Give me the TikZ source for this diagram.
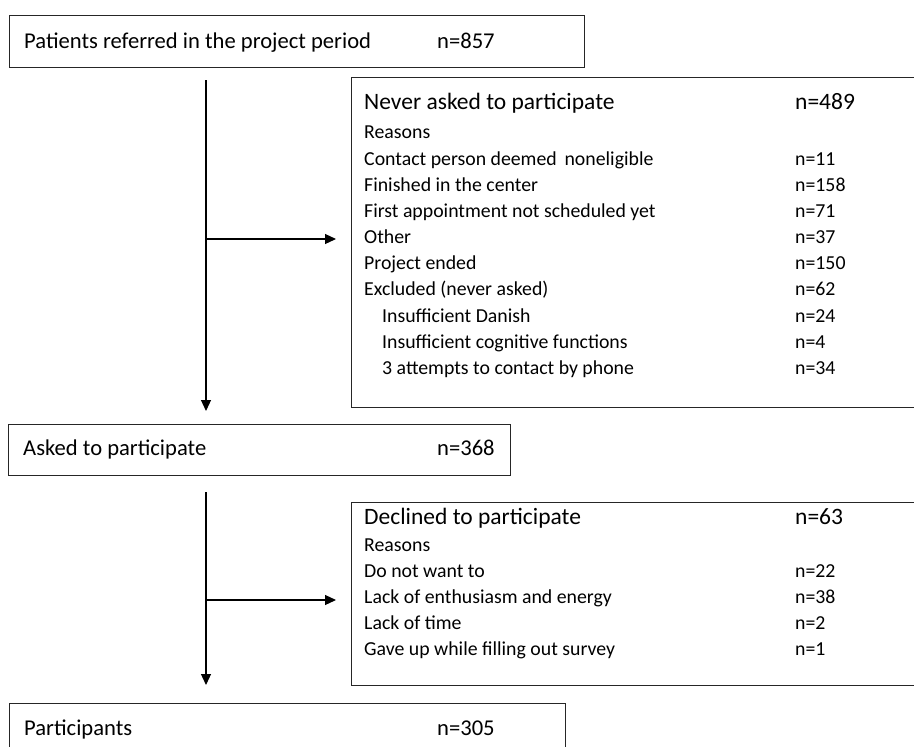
\documentclass[tikz,border=0pt]{standalone}
\usepackage{fontspec}
\setmainfont{Carlito}
\usetikzlibrary{arrows.meta}
\begin{document}
\begin{tikzpicture}[x=1pt,y=-1pt,
  box/.style={draw=black!85, line width=1.2pt, rectangle, inner sep=0pt, anchor=north west},
  big/.style={font=\fontsize{22.6}{26}\selectfont, anchor=base west, inner sep=0pt},
  head/.style={font=\fontsize{23.5}{26}\selectfont, anchor=base west, inner sep=0pt},
  small/.style={font=\fontsize{19.8}{22}\selectfont, anchor=base west, inner sep=0pt},
  arr/.style={line width=1.2pt, -{Triangle[length=11pt,width=10pt]}}]
\useasboundingbox (0,0) rectangle (914,747);
\clip (0,0) rectangle (914,747);
% boxes
\node[box, minimum width=575pt, minimum height=52pt] (b1) at (9,15) {};
\node[box, minimum width=620pt, minimum height=330pt] (b2) at (351,77) {};
\node[box, minimum width=502pt, minimum height=51pt] (b3) at (8,424) {};
\node[box, minimum width=620pt, minimum height=183pt] (b4) at (351,502) {};
\node[box, minimum width=556pt, minimum height=80pt] (b5) at (9,703) {};
% box 1
\node[big] (t1) at (24,48) {Patients referred in the project period};
\node[big] (n1) at (437,48) {n=857};
% box 2
\node[head] (t2) at (364,109) {Never asked to participate};
\node[head] (n2) at (795,109) {n=489};
\node[small] (r2) at (364,138) {Reasons};
\node[small] (a1) at (364,165) {Contact person deemed\, noneligible};
\node[small] (m1) at (795,165) {n=11};
\node[small] (a2) at (364,191) {Finished in the center};
\node[small] (m2) at (795,191) {n=158};
\node[small] (a3) at (364,217) {First appointment not scheduled yet};
\node[small] (m3) at (795,217) {n=71};
\node[small] (a4) at (364,243) {Other};
\node[small] (m4) at (795,243) {n=37};
\node[small] (a5) at (364,269) {Project ended};
\node[small] (m5) at (795,269) {n=150};
\node[small] (a6) at (364,295) {Excluded (never asked)};
\node[small] (m6) at (795,295) {n=62};
\node[small] (a7) at (382,322) {Insufficient Danish};
\node[small] (m7) at (795,322) {n=24};
\node[small] (a8) at (382,348) {Insufficient cognitive functions};
\node[small] (m8) at (795,348) {n=4};
\node[small] (a9) at (382,374) {3 attempts to contact by phone};
\node[small] (m9) at (795,374) {n=34};
% box 3
\node[big] (t3) at (23,455) {Asked to participate};
\node[big] (n3) at (437,455) {n=368};
% box 4
\node[head] (t4) at (364,524) {Declined to participate};
\node[head] (n4) at (795,524) {n=63};
\node[small] (r4) at (364,551) {Reasons};
\node[small] (d1) at (364,577) {Do not want to};
\node[small] (e1) at (795,577) {n=22};
\node[small] (d2) at (364,603) {Lack of enthusiasm and energy};
\node[small] (e2) at (795,603) {n=38};
\node[small] (d3) at (364,629) {Lack of time};
\node[small] (e3) at (795,629) {n=2};
\node[small] (d4) at (364,655) {Gave up while filling out survey};
\node[small] (e4) at (795,655) {n=1};
% box 5
\node[big] (t5) at (24,735) {Participants};
\node[big] (n5) at (437,735) {n=305};
% connectors
\coordinate (s1) at (206,80);
\coordinate (e1c) at (206,411);
\coordinate (j1) at (206,239);
\coordinate (s2) at (206,492);
\coordinate (e2c) at (206,685);
\coordinate (j2) at (206,600);
\draw[arr] (s1) -- (e1c);
\draw[arr] (j1) -- ([xshift=-15pt]j1 -| b2.west);
\draw[arr] (s2) -- (e2c);
\draw[arr] (j2) -- ([xshift=-15pt]j2 -| b4.west);
\end{tikzpicture}
\end{document}
